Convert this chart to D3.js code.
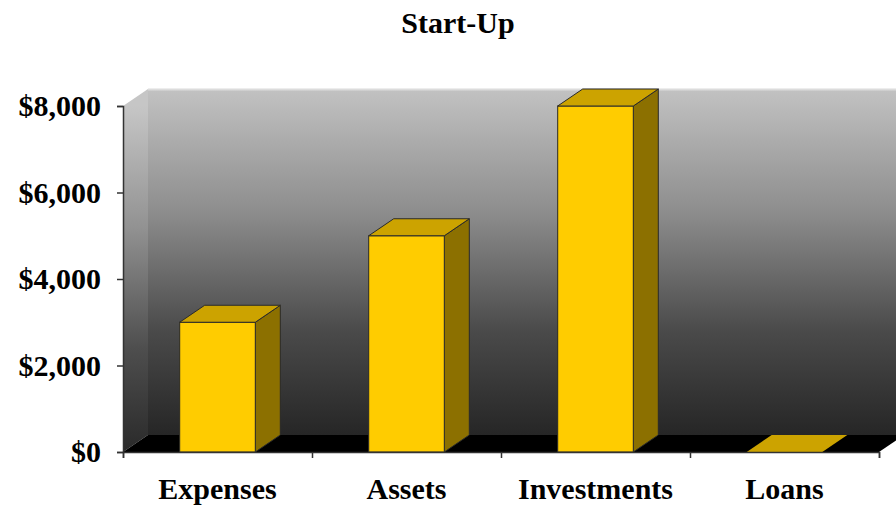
<!DOCTYPE html>
<html><head><meta charset="utf-8">
<script src="https://cdn.jsdelivr.net/npm/d3@7"></script>
<style>body{margin:0;background:#fff}svg{display:block}</style>
</head><body>
<svg id="c" width="896" height="508"></svg>
<script>
const title = "Start-Up";
const categories = ["Expenses", "Assets", "Investments", "Loans"];
const values = [3000, 5000, 8000, 0];
const yTicks = [0, 2000, 4000, 6000, 8000];

(function () {
const svg = d3.select("#c");
const W = 896, H = 508;
const pL = 123, pR = 879, pT = 106, pB = 452;
const dx = 25, dy = -17;
const font = "'Liberation Serif','Times New Roman',serif";

const y = d3.scaleLinear().domain([0, 8000]).range([pB, pT]);
const x = d3.scaleBand().domain(categories).range([pL, pR]).paddingInner(0.6).paddingOuter(0.3);
const xb = d3.scaleLinear().domain([0, categories.length]).range([pL, pR]);

const defs = svg.append("defs");
const g1 = defs.append("linearGradient").attr("id", "wall").attr("gradientUnits", "userSpaceOnUse")
  .attr("x1", 0).attr("y1", pT + dy).attr("x2", 0).attr("y2", pB + dy);
g1.append("stop").attr("offset", 0).attr("stop-color", "#c2c2c2");
g1.append("stop").attr("offset", 0.35).attr("stop-color", "#8e8e8e");
g1.append("stop").attr("offset", 0.7).attr("stop-color", "#4a4a4a");
g1.append("stop").attr("offset", 1).attr("stop-color", "#262626");
const g2 = defs.append("linearGradient").attr("id", "side").attr("gradientUnits", "userSpaceOnUse")
  .attr("x1", 0).attr("y1", pT).attr("x2", 0).attr("y2", pB);
g2.append("stop").attr("offset", 0).attr("stop-color", "#c6c6c6");
g2.append("stop").attr("offset", 0.35).attr("stop-color", "#929292");
g2.append("stop").attr("offset", 0.7).attr("stop-color", "#4e4e4e");
g2.append("stop").attr("offset", 1).attr("stop-color", "#2a2a2a");

const poly = pts => "M" + pts.map(p => p.join(",")).join("L") + "Z";

// back wall
svg.append("path").attr("d", poly([[pL + dx, pT + dy], [W + 40, pT + dy], [W + 40, pB + dy], [pL + dx, pB + dy]]))
  .attr("fill", "url(#wall)");
svg.append("line").attr("x1", pL + dx).attr("x2", W).attr("y1", pT + dy + 0.5).attr("y2", pT + dy + 0.5)
  .attr("stroke", "#dcdcdc").attr("stroke-width", 2);
// side wall
svg.append("path").attr("d", poly([[pL, pT], [pL + dx, pT + dy], [pL + dx, pB + dy], [pL, pB]]))
  .attr("fill", "url(#side)");
// floor
svg.append("path").attr("d", poly([[pL, pB], [pL + dx, pB + dy], [pR + dx, pB + dy], [pR, pB]]))
  .attr("fill", "#000");

// bars
const bars = svg.append("g").selectAll("g").data(categories).join("g");
bars.each(function (c, i) {
  const g = d3.select(this);
  const x0 = x(c), x1 = x(c) + x.bandwidth();
  const yt = y(values[i]);
  if (values[i] > 0) {
    g.append("path").attr("d", poly([[x1, pB], [x1 + dx, pB + dy], [x1 + dx, yt + dy], [x1, yt]]))
      .attr("fill", "#8c7000").attr("stroke", "#2a2a2a").attr("stroke-width", 1);
    g.append("rect").attr("x", x0).attr("y", yt).attr("width", x1 - x0).attr("height", pB - yt)
      .attr("fill", "#ffcc00").attr("stroke", "#2a2a2a").attr("stroke-width", 1);
  }
  g.append("path").attr("d", poly([[x0, yt], [x0 + dx, yt + dy], [x1 + dx, yt + dy], [x1, yt]]))
    .attr("fill", "#cca300").attr("stroke", values[i] > 0 ? "#2a2a2a" : "none").attr("stroke-width", 1);
});

// y axis
const ya = d3.axisLeft(y).tickValues(yTicks).tickSize(6).tickPadding(16).tickFormat(d => "$" + d3.format(",")(d));
const gy = svg.append("g").attr("transform", `translate(${pL},0)`).call(ya);
gy.select(".domain").attr("stroke", "#333").attr("stroke-width", 1.5);
gy.selectAll(".tick line").attr("stroke", "#333").attr("stroke-width", 1.5);
gy.selectAll(".tick text").attr("font-family", font).attr("font-weight", "bold").attr("font-size", 30).attr("fill", "#000");

// x axis (boundary ticks)
const xa = d3.axisBottom(xb).tickValues(d3.range(categories.length + 1)).tickSize(6).tickFormat("");
const gx = svg.append("g").attr("transform", `translate(0,${pB})`).call(xa);
gx.select(".domain").attr("stroke", "#333").attr("stroke-width", 1.5);
gx.selectAll(".tick line").attr("stroke", "#333").attr("stroke-width", 1.5);

// category labels
svg.append("g").selectAll("text").data(categories).join("text")
  .attr("x", d => x(d) + x.bandwidth() / 2).attr("y", 499)
  .attr("text-anchor", "middle").attr("font-family", font).attr("font-weight", "bold").attr("font-size", 30)
  .text(d => d);

// title
svg.append("text").attr("x", 458).attr("y", 33).attr("text-anchor", "middle")
  .attr("font-family", font).attr("font-weight", "bold").attr("font-size", 30).text(title);
})();
</script>
</body></html>
